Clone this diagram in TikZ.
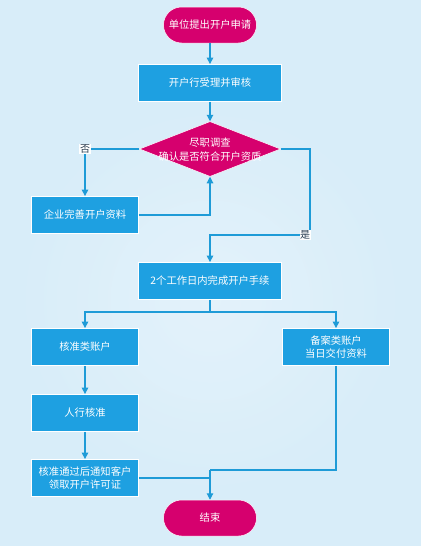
\documentclass[tikz,border=0pt]{standalone}
\usepackage{fontspec}
\setmainfont{Noto Sans CJK SC}
\usetikzlibrary{arrows.meta,shapes.geometric,calc}
\definecolor{bgc}{RGB}{216,237,249}
\definecolor{boxc}{RGB}{30,160,225}
\definecolor{magc}{RGB}{214,0,110}
\definecolor{linec}{RGB}{30,155,215}
\definecolor{labc}{RGB}{40,60,80}
\tikzset{
  procbox/.style={rectangle,draw=white,line width=0.8pt,fill=boxc,text=white,minimum width=107pt,minimum height=37pt,inner sep=1pt,align=center,font=\fontsize{10.3}{13.5}\selectfont},
  widebox/.style={procbox,minimum width=143pt},
  termbox/.style={rectangle,rounded corners=18pt,fill=magc,draw=white,line width=0.5pt,text=white,minimum width=93pt,minimum height=36pt,font=\fontsize{10.3}{12}\selectfont},
  decbox/.style={diamond,aspect=2.56,fill=magc,draw=white,line width=0.5pt,inner sep=0pt,minimum width=141pt,minimum height=55pt},
  dectext/.style={text=white,align=center,inner sep=0pt,font=\fontsize{10.3}{14}\selectfont},
  conn/.style={draw=linec,line width=1.1pt},
  arr/.style={conn,-{Triangle[width=6.5pt,length=6.5pt]}},
  lab/.style={fill=white,text=labc,inner sep=0.6pt,font=\fontsize{10}{11}\selectfont}
}
\begin{document}
\begin{tikzpicture}[x=1pt,y=-1pt]
\fill[bgc] (0,0) rectangle (421,546);
\shade[inner color=white!50!bgc,outer color=bgc,opacity=0.6] (210,300) circle (200);
\useasboundingbox (0,0) rectangle (421,546);
\node[termbox] (start) at (210,25) {单位提出开户申请};
\node[widebox] (b1) at (210,83) {开户行受理并审核};
\node[decbox] (d) at (210,149) {};
\node[dectext] (dt) at (210,150) {尽职调查\\确认是否符合开户资质};
\node[procbox] (fix) at (85,215) {企业完善开户资料};
\node[widebox] (b3) at (210,281) {2个工作日内完成开户手续};
\node[procbox] (b4) at (85,347) {核准类账户};
\node[procbox] (b5) at (336,347) {备案类账户\\当日交付资料};
\node[procbox] (b6) at (85,413) {人行核准};
\node[procbox] (b7) at (85,478) {核准通过后通知客户\\领取开户许可证};
\node[termbox] (end) at (210,518) {结束};
\coordinate (yesR) at (310,235);
\coordinate (split) at (210,312);
\coordinate (merge) at (210,470);

\draw[arr] (start) -- (b1);
\draw[arr] (b1) -- (d);
\draw[arr] (d.west) -| node[lab,pos=0.5] {否} (fix.north);
\draw[arr] (fix.east) -| (d.south);
\draw[arr] (d.east) -| (yesR) -- (yesR -| b3.north) -- (b3.north);
\node[lab,anchor=east] (yeslab) at (311,235) {是};
\draw[conn] (b3.south) -- (split);
\draw[arr] (split) -| (b4.north);
\draw[arr] (split) -| (b5.north);
\draw[arr] (b4) -- (b6);
\draw[arr] (b6) -- (b7);
\draw[conn] (b5.south) |- (merge);
\draw[arr] (merge) -- (end.north);
\draw[conn] (b7.east) -- (b7.east -| end.north);
\end{tikzpicture}
\end{document}
